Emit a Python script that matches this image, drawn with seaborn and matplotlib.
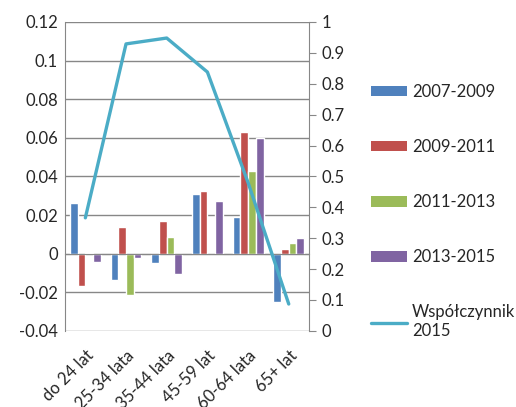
import numpy as np
import pandas as pd
import matplotlib
matplotlib.use("Agg")
import matplotlib.pyplot as plt
import matplotlib.ticker as mticker
from matplotlib.patches import Patch
from matplotlib.lines import Line2D
import seaborn as sns

# Data
groups = ["do 24 lat", "25-34 lata", "35-44 lata", "45-59 lat", "60-64 lata", "65+ lat"]
periods = ["2007-2009", "2009-2011", "2011-2013", "2013-2015"]
v_2007_2009 = [0.026, -0.0135, -0.005, 0.031, 0.019, -0.025]
v_2009_2011 = [-0.017, 0.014, 0.017, 0.0325, 0.063, 0.0025]
v_2011_2013 = [0.0005, -0.0215, 0.0087, 0.0, 0.043, 0.0053]
v_2013_2015 = [-0.0045, -0.0025, -0.0105, 0.0275, 0.060, 0.0082]
coef_2015 = [0.366, 0.929, 0.948, 0.838, 0.48, 0.087]
line_label = "Współczynnik\n2015"

colors = ["#4F81BD", "#C0504D", "#9BBB59", "#8064A2"]
line_color = "#4BACC6"
grid_color = "#878787"
text_color = "#262626"

sns.set_style("white")
plt.rcParams["font.family"] = ["Lato", "DejaVu Sans"]
plt.rcParams["axes.unicode_minus"] = False

df = pd.DataFrame({
    "grupa": groups * 4,
    "okres": np.repeat(periods, len(groups)),
    "wartosc": v_2007_2009 + v_2009_2011 + v_2011_2013 + v_2013_2015,
})

fig = plt.figure(figsize=(5.16, 4.07), dpi=100)
ax = fig.add_axes([0.126, 0.187, 0.473, 0.759])

sns.barplot(data=df, x="grupa", y="wartosc", hue="okres", palette=colors,
            width=0.76, gap=0, ax=ax, legend=False, saturation=1)

ax.set_ylim(-0.04, 0.12)
ax.set_xlim(-0.5, len(groups) - 0.5)
ax.yaxis.set_major_locator(mticker.MultipleLocator(0.02))
ax.yaxis.set_major_formatter(mticker.FuncFormatter(lambda v, p: "%g" % round(v, 4)))
ax.grid(axis="y", color=grid_color, linewidth=1)
ax.set_axisbelow(True)
ax.set_xlabel("")
ax.set_ylabel("")
ax.tick_params(axis="y", length=0, labelsize=12, colors=text_color, pad=5)

for s in ["top", "right"]:
    ax.spines[s].set_visible(False)
ax.spines["left"].set_color(grid_color)
ax.spines["bottom"].set_position(("data", 0))
ax.spines["bottom"].set_color(grid_color)

# category boundary ticks on the zero line
ax.set_xticks(np.arange(len(groups)))
ax.set_xticklabels([])
ax.tick_params(axis="x", which="major", length=0)
ax.xaxis.set_minor_locator(mticker.FixedLocator(np.arange(len(groups) + 1) - 0.5))
ax.tick_params(axis="x", which="minor", length=5, color=grid_color, direction="out")

# category labels at the bottom
sec = ax.secondary_xaxis(0)
sec.set_xticks(np.arange(len(groups)))
sec.set_xticklabels(groups, rotation=45, ha="right", rotation_mode="anchor", fontsize=12)
sec.tick_params(length=0, pad=12, colors=text_color)
sec.spines["bottom"].set_visible(False)

# right axis with coefficient line
ax2 = ax.twinx()
sns.lineplot(x=np.arange(len(groups)), y=coef_2015, ax=ax2, color=line_color,
             linewidth=2.4, sort=False)
ax2.set_ylim(0, 1)
ax2.yaxis.set_major_locator(mticker.MultipleLocator(0.1))
ax2.yaxis.set_major_formatter(mticker.FuncFormatter(lambda v, p: "%g" % round(v, 2)))
ax2.tick_params(axis="y", length=5, color=grid_color, labelsize=12, labelcolor=text_color, pad=4)
for s in ["top", "left", "bottom"]:
    ax2.spines[s].set_visible(False)
ax2.spines["right"].set_color(grid_color)

handles = [Patch(facecolor=c, edgecolor="none") for c in colors]
handles.append(Line2D([0], [0], color=line_color, linewidth=2.4))
fig.legend(handles, periods + [line_label], loc="upper left",
           bbox_to_anchor=(0.69, 0.831), frameon=False, fontsize=12,
           handlelength=2.15, handleheight=0.6, labelspacing=2.35,
           handletextpad=0.3, labelcolor=text_color)

fig.savefig("out.png", dpi=100)
